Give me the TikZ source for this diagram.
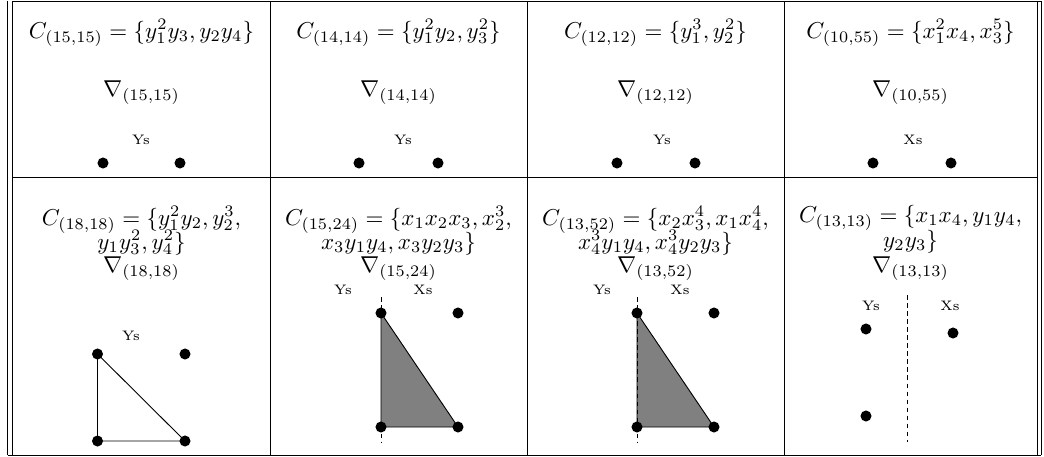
\documentclass[tikz,border=0pt]{standalone}
\usepackage{amsmath, amssymb}
\usetikzlibrary{positioning}

\begin{document}
\begin{tikzpicture}[x=0.435pt, y=-0.435pt,
  rule/.style={line width=0.4pt},
  formula/.style={anchor=base, inner sep=0pt},
  tag/.style={anchor=base, font=\fontsize{6}{7}\selectfont, inner sep=0pt},
  pt/.style={circle, fill=black, inner sep=0pt, minimum size=4.8pt},
  axis/.style={line width=0.4pt, dash pattern=on 2pt off 1.5pt},
  face/.style={fill=gray, draw=black, line width=0.4pt}]
\useasboundingbox (0,0) rectangle (1044,456);

% table rules
\draw[rule] (7.5,1) -- (7.5,455);
\draw[rule] (12.5,1) -- (12.5,455);
\draw[rule] (1037,1) -- (1037,455);
\draw[rule] (1041,1) -- (1041,455);
\draw[rule] (12.5,1) -- (1041,1);
\draw[rule] (12.5,177) -- (1037,177);
\draw[rule] (7.5,455) -- (1041,455);
\draw[rule] (270,1) -- (270,455);
\draw[rule] (527,1) -- (527,455);
\draw[rule] (784,1) -- (784,455);

% row 1
\node[formula] (f1) at (141.5,38) {$C_{(15,15)}=\{y_1^2y_3,y_2y_4\}$};
\node[formula] (g1) at (141.5,96) {$\nabla_{(15,15)}$};
\node[tag] (t1) at (141,144) {Ys};
\node[pt] (p1a) at (103,163) {};
\node[pt] (p1b) at (180,163) {};

\node[formula] (f2) at (398.5,38) {$C_{(14,14)}=\{y_1^2y_2,y_3^2\}$};
\node[formula] (g2) at (398.5,96) {$\nabla_{(14,14)}$};
\node[tag] (t2) at (403,144) {Ys};
\node[pt] (p2a) at (359,163) {};
\node[pt] (p2b) at (438,163) {};

\node[formula] (f3) at (655.5,38) {$C_{(12,12)}=\{y_1^3,y_2^2\}$};
\node[formula] (g3) at (655.5,96) {$\nabla_{(12,12)}$};
\node[tag] (t3) at (662,144) {Ys};
\node[pt] (p3a) at (617,163) {};
\node[pt] (p3b) at (695,163) {};

\node[formula] (f4) at (910.5,38) {$C_{(10,55)}=\{x_1^2x_4,x_3^5\}$};
\node[formula] (g4) at (910.5,96) {$\nabla_{(10,55)}$};
\node[tag] (t4) at (913,144) {Xs};
\node[pt] (p4a) at (873,163) {};
\node[pt] (p4b) at (951,163) {};

% row 2
\node[formula] (f5) at (141.5,225) {$C_{(18,18)}=\{y_1^2y_2,y_2^3,$};
\node[formula] (h5) at (141.5,249) {$y_1y_3^2,y_4^2\}$};
\node[formula] (g5) at (141.5,272) {$\nabla_{(18,18)}$};
\node[tag] (t5) at (131,340) {Ys};
\node[pt] (p5a) at (97.5,354) {};
\node[pt] (p5b) at (185,354) {};
\node[pt] (p5c) at (97.5,441) {};
\node[pt] (p5d) at (185,441) {};
\draw[rule] (p5a.center) -- (p5d.center) -- (p5c.center) -- cycle;

\node[formula] (f6) at (398.5,225) {$C_{(15,24)}=\{x_1x_2x_3,x_2^3,$};
\node[formula] (h6) at (398.5,249) {$x_3y_1y_4,x_3y_2y_3\}$};
\node[formula] (g6) at (398.5,272) {$\nabla_{(15,24)}$};
\node[tag] (t6a) at (343,294) {Ys};
\node[tag] (t6b) at (423,294) {Xs};
\coordinate (a6a) at (381,297);
\coordinate (a6b) at (381,442);
\draw[axis] (a6a) -- (a6b);
\coordinate (q6a) at (381,313);
\coordinate (q6c) at (381,427);
\coordinate (q6d) at (458,427);
\draw[face] (q6a) -- (q6d) -- (q6c) -- cycle;
\node[pt] (p6a) at (q6a) {};
\node[pt] (p6b) at (458,313) {};
\node[pt] (p6c) at (q6c) {};
\node[pt] (p6d) at (q6d) {};

\node[formula] (f7) at (655.5,225) {$C_{(13,52)}=\{x_2x_3^4,x_1x_4^4,$};
\node[formula] (h7) at (655.5,249) {$x_4^3y_1y_4,x_4^3y_2y_3\}$};
\node[formula] (g7) at (655.5,272) {$\nabla_{(13,52)}$};
\node[tag] (t7a) at (602,294) {Ys};
\node[tag] (t7b) at (680,294) {Xs};
\coordinate (a7a) at (637,297);
\coordinate (a7b) at (637,442);
\coordinate (q7a) at (637,313);
\coordinate (q7c) at (637,427);
\coordinate (q7d) at (714,427);
\draw[face] (q7a) -- (q7d) -- (q7c) -- cycle;
\draw[axis] (a7a) -- (a7b);
\node[pt] (p7a) at (q7a) {};
\node[pt] (p7b) at (714,313) {};
\node[pt] (p7c) at (q7c) {};
\node[pt] (p7d) at (q7d) {};

\node[formula] (f8) at (910.5,222) {$C_{(13,13)}=\{x_1x_4,y_1y_4,$};
\node[formula] (h8) at (910.5,247) {$y_2y_3\}$};
\node[formula] (g8) at (910.5,272) {$\nabla_{(13,13)}$};
\node[tag] (t8a) at (871,310) {Ys};
\node[tag] (t8b) at (950,310) {Xs};
\coordinate (a8a) at (907,295);
\coordinate (a8b) at (907,442);
\draw[axis] (a8a) -- (a8b);
\node[pt] (p8a) at (866,329) {};
\node[pt] (p8b) at (953,333) {};
\node[pt] (p8c) at (866,416) {};
\end{tikzpicture}
\end{document}
